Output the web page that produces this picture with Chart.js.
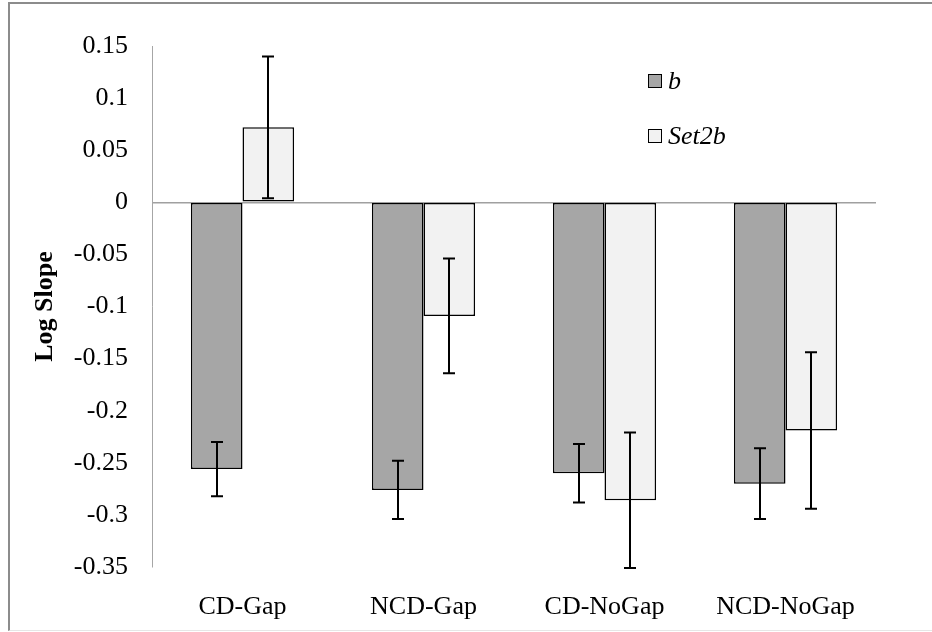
<!DOCTYPE html>
<html><head><meta charset="utf-8">
<script src="https://cdn.jsdelivr.net/npm/chart.js@4.4.1/dist/chart.umd.min.js"></script>
<style>
html,body{margin:0;padding:0;background:#fff;}
#wrap{position:relative;width:932px;height:632px;overflow:hidden;}
#frame{position:absolute;left:8px;top:2px;width:924px;height:629px;border-top:2px solid #8c8c8c;border-left:2px solid #8c8c8c;border-bottom:1px solid #e6e6e6;box-sizing:border-box;pointer-events:none;}
canvas{position:absolute;left:0;top:0;}
</style></head><body>
<div id="wrap"><canvas id="c" width="932" height="632"></canvas><div id="frame"></div></div>
<script>
const categories = ['CD-Gap', 'NCD-Gap', 'CD-NoGap', 'NCD-NoGap'];
const seriesNames = ['b', 'Set2b'];
const bValues = [-0.256, -0.276, -0.260, -0.270];
const bErrors = [0.026, 0.028, 0.028, 0.034];
const set2bValues = [0.072, -0.109, -0.286, -0.219];
const set2bErrors = [0.068, 0.055, 0.065, 0.075];
const yTickValues = [0.15, 0.1, 0.05, 0, -0.05, -0.1, -0.15, -0.2, -0.25, -0.3, -0.35];
const yTickLabels = ['0.15', '0.1', '0.05', '0', '-0.05', '-0.1', '-0.15', '-0.2', '-0.25', '-0.3', '-0.35'];
const axisTitle = 'Log Slope';

const SERIF = '"Liberation Serif", "Times New Roman", serif';

const errorBarPlugin = {
  id: 'errorBars',
  afterDatasetsDraw(chart) {
    const ctx = chart.ctx;
    const ys = chart.scales.y;
    ctx.save();
    ctx.strokeStyle = '#000';
    ctx.lineWidth = 2;
    chart.data.datasets.forEach((ds, d) => {
      const meta = chart.getDatasetMeta(d);
      meta.data.forEach((el, i) => {
        const v = ds.data[i], e = ds.errors[i];
        const x = Math.round(el.x);
        const yt = ys.getPixelForValue(v + e);
        const yb = ys.getPixelForValue(v - e);
        ctx.beginPath();
        ctx.moveTo(x, yt); ctx.lineTo(x, yb);
        ctx.moveTo(x - 6, yt); ctx.lineTo(x + 6, yt);
        ctx.moveTo(x - 6, yb); ctx.lineTo(x + 6, yb);
        ctx.stroke();
      });
    });
    ctx.restore();
  }
};

const legendPlugin = {
  id: 'customLegend',
  afterDraw(chart) {
    const ctx = chart.ctx;
    ctx.save();
    chart.data.datasets.forEach((ds, d) => {
      const bx = 648.5, by = 74.5 + d * 55;
      ctx.fillStyle = ds.backgroundColor;
      ctx.fillRect(bx, by, 13, 13);
      ctx.strokeStyle = '#000';
      ctx.lineWidth = 1;
      ctx.strokeRect(bx, by, 13, 13);
      ctx.fillStyle = '#000';
      ctx.font = 'italic 26px ' + SERIF;
      ctx.textBaseline = 'alphabetic';
      ctx.textAlign = 'left';
      ctx.fillText(ds.label, 668, by + 14);
    });
    ctx.restore();
  }
};

new Chart(document.getElementById('c'), {
  type: 'bar',
  data: {
    labels: categories,
    datasets: [
      { label: seriesNames[0], data: bValues, errors: bErrors, backgroundColor: '#a6a6a6', borderColor: '#000', borderWidth: 1.5, borderSkipped: false },
      { label: seriesNames[1], data: set2bValues, errors: set2bErrors, backgroundColor: '#f2f2f2', borderColor: '#000', borderWidth: 1.5, borderSkipped: false }
    ]
  },
  options: {
    responsive: false,
    animation: false,
    devicePixelRatio: 1,
    layout: { padding: { top: 46, right: 56, bottom: 0, left: 0 } },
    datasets: { bar: { categoryPercentage: 0.57, barPercentage: 1 } },
    plugins: { legend: { display: false }, tooltip: { enabled: false } },
    scales: {
      x: {
        grid: { display: false },
        border: { display: false },
        ticks: { color: '#000', font: { family: SERIF, size: 26 }, padding: 17 },
        afterFit(s) { s.height = 65; }
      },
      y: {
        min: -0.35, max: 0.15,
        afterBuildTicks(s) { s.ticks = yTickValues.map(v => ({ value: v })); },
        ticks: {
          color: '#000', font: { family: SERIF, size: 26 }, padding: 24,
          callback(v) { const k = yTickValues.findIndex(t => Math.abs(t - v) < 1e-9); return k >= 0 ? yTickLabels[k] : ''; }
        },
        grid: {
          drawTicks: false,
          lineWidth: 1.5,
          color(c) { return c.tick && Math.abs(c.tick.value) < 1e-9 ? '#a0a0a0' : 'rgba(0,0,0,0)'; }
        },
        border: { display: true, color: '#a6a6a6', width: 1 },
        title: { display: true, text: axisTitle, color: '#000', font: { family: SERIF, size: 26, weight: 'bold' }, padding: { top: 30, bottom: 0 } },
        afterFit(s) { s.width = 152; }
      }
    }
  },
  plugins: [errorBarPlugin, legendPlugin]
});
</script>
</body></html>
